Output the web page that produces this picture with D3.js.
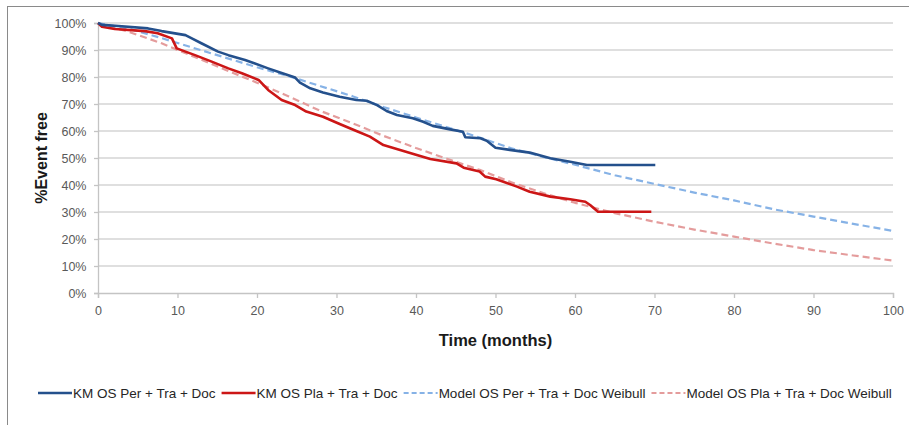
<!DOCTYPE html>
<html>
<head>
<meta charset="utf-8">
<script src="https://cdn.jsdelivr.net/npm/d3@7"></script>
<style>
  body { margin: 0; background: #fff; }
  text { font-family: "Liberation Sans", Arial, sans-serif; }
</style>
</head>
<body>
<div class="canvas"></div>
<script>
// KM curves: [months, % event free]
const kmPer = [[0,100],[0.5,99.3],[3,98.8],[6.3,98],[8,97],[11,95.5],[11.8,94.3],[13,92.5],[15.1,89.4],[16.4,88.1],[18.5,86.3],[21.4,83.2],[23.1,81.5],[24.8,79.8],[25.4,77.9],[26.7,75.8],[28.3,74.3],[30.4,72.7],[32.5,71.5],[33.8,71.2],[35.1,69.6],[36.3,67.4],[37.6,65.9],[39.6,64.7],[40.9,63.4],[42.1,61.9],[44.3,60.6],[45.9,59.7],[46.2,57.7],[48.1,57.3],[48.9,56.4],[50,53.8],[51.8,53],[54.3,52],[56.9,49.9],[59.4,48.6],[61.5,47.4],[70.1,47.4]];
const kmPla = [[0,100],[0.5,98.6],[2.1,97.8],[5.9,97],[7.5,96.2],[9.3,94.3],[9.9,90.6],[12.2,88.1],[14.3,85.7],[16.4,83.2],[18.1,81.4],[20.2,78.9],[21.4,75.2],[23.1,71.5],[24.8,69.6],[26.2,67.2],[28.3,65.3],[30.4,62.6],[32.5,60],[34.2,57.9],[35.9,54.8],[38,53],[40.1,51.1],[41.8,49.6],[45.1,48],[46,46.4],[48,45],[48.7,43.1],[50.1,42.1],[52.7,39.4],[54.3,37.5],[56.9,35.7],[59.4,34.7],[61.3,33.8],[61.9,32.6],[62.9,30.1],[69.6,30.1]];

// Weibull model curves
const modelMonths = [0,4,8,12,16,20,24,28,32,36,40,44,48,52,56,60,65,70,75,80,85,90,95,100];
const modelPer = [100,97.8,94.4,90.8,87.2,83.6,80.3,76.6,72.9,68.8,65.0,61.3,57.6,53.6,50.4,47.5,43.6,40.4,37.2,34.3,31.0,28.3,25.6,23.0];
const modelPla = [100,96.6,92.5,87.6,82.7,77.9,72.8,67.4,62.9,58.1,53.7,49.6,45.6,41.0,37.0,33.4,29.6,26.4,23.5,20.9,18.3,15.9,13.9,12.0];

const xTicks = [0,10,20,30,40,50,60,70,80,90,100];
const yTicks = [0,0.1,0.2,0.3,0.4,0.5,0.6,0.7,0.8,0.9,1];

const series = [
  { name: "KM OS Per + Tra + Doc", data: kmPer, color: "#24508C", width: 2.6, dash: null },
  { name: "KM OS Pla + Tra + Doc", data: kmPla, color: "#CC1616", width: 2.6, dash: null },
  { name: "Model OS Per + Tra + Doc Weibull", data: modelMonths.map((m, i) => [m, modelPer[i]]), color: "#86B2E6", width: 2.2, dash: "7,4" },
  { name: "Model OS Pla + Tra + Doc Weibull", data: modelMonths.map((m, i) => [m, modelPla[i]]), color: "#E49C9C", width: 2.2, dash: "7,4" }
];

const width = 909, height = 425;
const svg = d3.select(".canvas").append("svg")
  .attr("width", width)
  .attr("height", height);

// chart border (cropped on right/bottom)
svg.append("rect")
  .attr("x", 7.5).attr("y", 6.5)
  .attr("width", width + 20).attr("height", height + 20)
  .attr("fill", "none").attr("stroke", "#8a8a8a").attr("stroke-width", 1);

// scales
const x = d3.scaleLinear().domain([0, 100]).range([98, 893]);
const y = d3.scaleLinear().domain([0, 1]).range([293, 23]);

// gridlines
svg.append("g").selectAll("line")
  .data(yTicks.slice(1))
  .enter().append("line")
  .attr("x1", x(0)).attr("x2", x(100))
  .attr("y1", d => y(d)).attr("y2", d => y(d))
  .attr("stroke", "#d4d4d4").attr("stroke-width", 1.3);

// axes
const yAxis = d3.axisLeft(y).tickValues(yTicks).tickFormat(d3.format(".0%")).tickSize(4).tickPadding(10);
const xAxis = d3.axisBottom(x).tickValues(xTicks).tickFormat(d3.format("d")).tickSize(5).tickPadding(8);

const yAxisGroup = svg.append("g").attr("transform", `translate(${x(0)},0)`).call(yAxis);
const xAxisGroup = svg.append("g").attr("transform", `translate(0,${y(0)})`).call(xAxis);

[yAxisGroup, xAxisGroup].forEach(g => {
  g.select(".domain").attr("stroke", "#c4c4c4").attr("stroke-width", 1.3);
  g.selectAll(".tick line").attr("stroke", "#c4c4c4").attr("stroke-width", 1.3);
  g.selectAll("text").attr("fill", "#595959").style("font-size", "12.5px");
});
yAxisGroup.selectAll("text").attr("dx", "0.2em");

// lines
const line = d3.line()
  .x(d => x(d[0]))
  .y(d => y(d[1] / 100));

svg.append("g").selectAll("path")
  .data(series.slice().reverse())
  .enter().append("path")
  .attr("d", d => line(d.data))
  .attr("fill", "none")
  .attr("stroke", d => d.color)
  .attr("stroke-width", d => d.width)
  .attr("stroke-dasharray", d => d.dash)
  .attr("stroke-linejoin", "round");

// axis titles
svg.append("text")
  .attr("transform", `translate(41,${(y(0) + y(1)) / 2}) rotate(-90)`)
  .attr("text-anchor", "middle")
  .attr("dy", "0.35em")
  .style("font-size", "16px").style("font-weight", "bold")
  .attr("fill", "#1a1a1a")
  .text("%Event free");

svg.append("text")
  .attr("x", (x(0) + x(100)) / 2)
  .attr("y", 346)
  .attr("text-anchor", "middle")
  .style("font-size", "16.5px").style("font-weight", "bold")
  .attr("fill", "#1a1a1a")
  .text("Time (months)");

// legend
const legend = svg.append("g").attr("transform", "translate(0,393)");
let lx = 38;
series.forEach(s => {
  legend.append("line")
    .attr("x1", lx).attr("x2", lx + 34)
    .attr("y1", 0).attr("y2", 0)
    .attr("stroke", s.color).attr("stroke-width", s.width)
    .attr("stroke-dasharray", s.dash ? "5,3" : null);
  const t = legend.append("text")
    .attr("x", lx + 35).attr("y", 0).attr("dy", "0.35em")
    .style("font-size", "13.5px").attr("fill", "#262626")
    .text(s.name);
  lx += 35 + t.node().getComputedTextLength() + 6;
});
</script>
</body>
</html>
